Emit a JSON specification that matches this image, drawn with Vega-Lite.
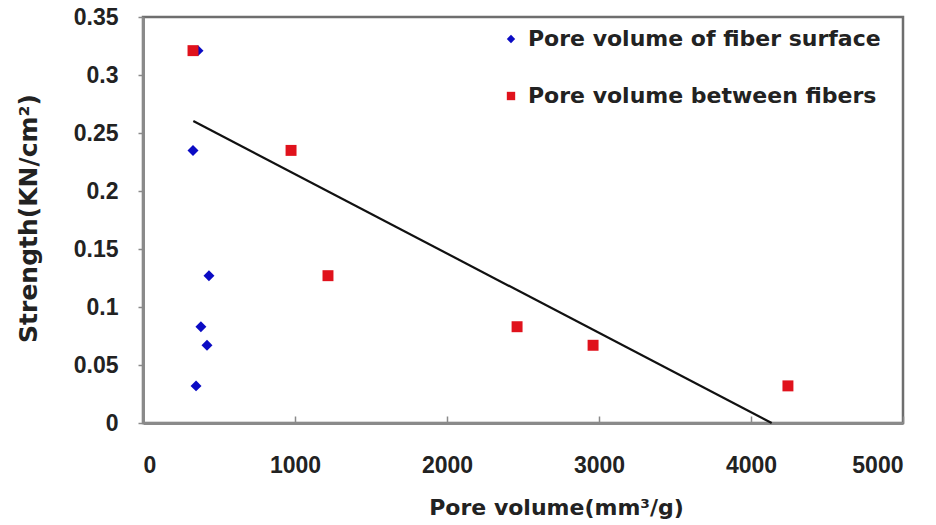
{
  "$schema": "https://vega.github.io/schema/vega-lite/v6.json",
  "autosize": "none",
  "width": 760,
  "height": 406,
  "padding": {"left": 143, "top": 17, "right": 33, "bottom": 102},
  "background": "white",
  "config": {
    "view": {"stroke": "#6e6e6e", "strokeWidth": 2.5},
    "axis": {
      "grid": false,
      "domainColor": "#8a8a8a",
      "domainWidth": 3,
      "tickColor": "#8a8a8a",
      "tickWidth": 1.5,
      "labelFont": "Liberation Sans",
      "labelFontWeight": "bold",
      "labelFontSize": 23,
      "labelColor": "#222222",
      "titleFont": "DejaVu Sans",
      "titleFontWeight": "bold",
      "titleFontSize": 22,
      "titleColor": "#222222"
    }
  },
  "datasets": {
    "samples": [
      {"volume": 362, "strength": 0.321, "series": "Pore volume of fiber surface"},
      {"volume": 329, "strength": 0.235, "series": "Pore volume of fiber surface"},
      {"volume": 434, "strength": 0.127, "series": "Pore volume of fiber surface"},
      {"volume": 381, "strength": 0.083, "series": "Pore volume of fiber surface"},
      {"volume": 421, "strength": 0.067, "series": "Pore volume of fiber surface"},
      {"volume": 349, "strength": 0.032, "series": "Pore volume of fiber surface"},
      {"volume": 329, "strength": 0.321, "series": "Pore volume between fibers"},
      {"volume": 974, "strength": 0.235, "series": "Pore volume between fibers"},
      {"volume": 1217, "strength": 0.127, "series": "Pore volume between fibers"},
      {"volume": 2461, "strength": 0.083, "series": "Pore volume between fibers"},
      {"volume": 2961, "strength": 0.067, "series": "Pore volume between fibers"},
      {"volume": 4243, "strength": 0.032, "series": "Pore volume between fibers"}
    ],
    "trend": [
      {"volume": 331, "strength": 0.2603},
      {"volume": 4136, "strength": 0}
    ]
  },
  "layer": [
    {
      "data": {"name": "trend"},
      "mark": {"type": "line", "color": "#111111", "strokeWidth": 2.2},
      "encoding": {
        "x": {"field": "volume", "type": "quantitative"},
        "y": {"field": "strength", "type": "quantitative"}
      }
    },
    {
      "data": {"name": "samples"},
      "mark": {"type": "point", "filled": true, "opacity": 1, "size": 120},
      "encoding": {
        "x": {
          "field": "volume",
          "type": "quantitative",
          "scale": {"domain": [0, 5000], "nice": false},
          "axis": {
            "values": [0, 1000, 2000, 3000, 4000, 5000],
            "format": "d",
            "tickSize": -7,
            "labelPadding": 38,
            "labelBaseline": "top",
            "title": "Pore volume(mm³/g)",
            "titleX": 413,
            "titleY": 84,
            "titleBaseline": "middle",
            "titleAlign": "center",
            "titleAnchor": null
          }
        },
        "y": {
          "field": "strength",
          "type": "quantitative",
          "scale": {"domain": [0, 0.35], "nice": false},
          "axis": {
            "values": [0, 0.05, 0.1, 0.15, 0.2, 0.25, 0.3, 0.35],
            "format": "~g",
            "tickSize": 5,
            "labelPadding": 20,
            "title": "Strength(KN/cm²)",
            "titleFontSize": 25,
            "titleAngle": -90,
            "titleX": -115,
            "titleY": 201,
            "titleBaseline": "middle",
            "titleAlign": "center",
            "titleAnchor": null
          }
        },
        "shape": {
          "field": "series",
          "type": "nominal",
          "scale": {
            "domain": ["Pore volume of fiber surface", "Pore volume between fibers"],
            "range": ["diamond", "square"]
          }
        },
        "color": {
          "field": "series",
          "type": "nominal",
          "scale": {
            "domain": ["Pore volume of fiber surface", "Pore volume between fibers"],
            "range": ["#0b0bc4", "#e0121c"]
          },
          "legend": {
            "title": null,
            "orient": "none",
            "legendX": 357,
            "legendY": 11,
            "padding": 0,
            "rowPadding": 35,
            "symbolSize": 70,
            "symbolStrokeWidth": 0,
            "labelFont": "DejaVu Sans",
            "labelFontWeight": "bold",
            "labelFontSize": 22,
            "labelColor": "#222222",
            "labelOffset": 6,
            "labelLimit": 500
          }
        }
      }
    }
  ]
}
